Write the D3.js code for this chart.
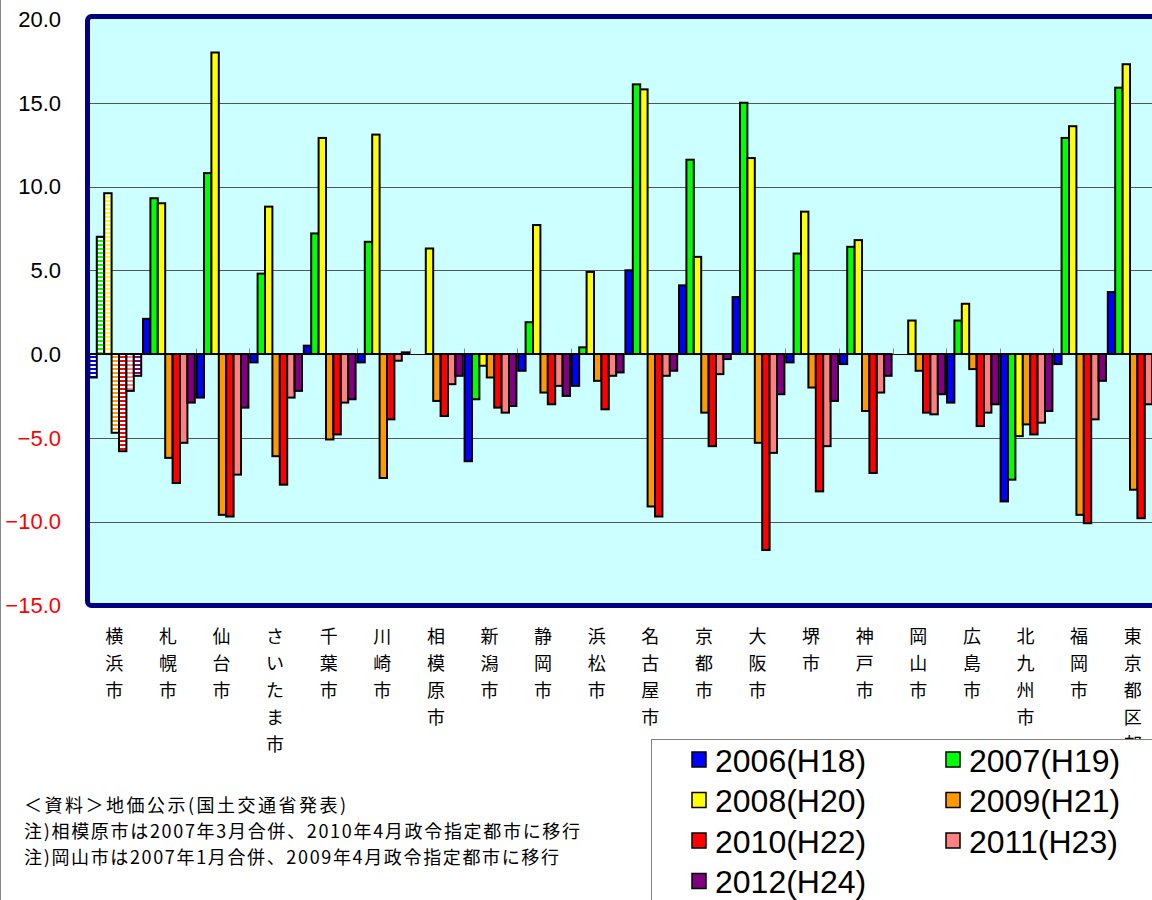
<!DOCTYPE html>
<html><head><meta charset="utf-8">
<script src="https://cdn.jsdelivr.net/npm/d3@7"></script>
<style>html,body{margin:0;padding:0;background:#fff;overflow:hidden}</style>
</head><body>
<script>
const categories = ["横浜市","札幌市","仙台市","さいたま市","千葉市","川崎市","相模原市","新潟市","静岡市","浜松市","名古屋市","京都市","大阪市","堺市","神戸市","岡山市","広島市","北九州市","福岡市","東京都区部"];
const seriesNames = ["2006(H18)","2007(H19)","2008(H20)","2009(H21)","2010(H22)","2011(H23)","2012(H24)"];
const seriesColors = ["#0000FF","#00FF00","#FFFF00","#FF9900","#FF0000","#FF8080","#800080"];
const v2006 = [-1.4, 2.1, -2.6, -0.5, 0.5, -0.5, null, -6.4, -1.0, -1.9, 5.0, 4.1, 3.4, -0.5, -0.6, null, -2.9, -8.8, -0.6, 3.7];
const v2007 = [7.0, 9.3, 10.8, 4.8, 7.2, 6.7, null, -2.7, 1.9, 0.4, 16.1, 11.6, 15.0, 6.0, 6.4, null, 2.0, -7.5, 12.9, 15.9];
const v2008 = [9.6, 9.0, 18.0, 8.8, 12.9, 13.1, 6.3, -0.7, 7.7, 4.9, 15.8, 5.8, 11.7, 8.5, 6.8, 2.0, 3.0, -4.9, 13.6, 17.3];
const v2009 = [-4.7, -6.2, -9.6, -6.1, -5.1, -7.4, -2.8, -1.4, -2.3, -1.6, -9.1, -3.5, -5.3, -2.0, -3.4, -1.0, -0.9, -4.2, -9.6, -8.1];
const v2010 = [-5.8, -7.7, -9.7, -7.8, -4.8, -3.9, -3.7, -3.2, -3.0, -3.3, -9.7, -5.5, -11.7, -8.2, -7.1, -3.5, -4.3, -4.8, -10.1, -9.8];
const v2011 = [-2.2, -5.3, -7.2, -2.6, -2.9, -0.4, -1.8, -3.5, -1.9, -1.3, -1.3, -1.2, -5.9, -5.5, -2.3, -3.6, -3.5, -4.1, -3.9, -3.0];
const v2012 = [-1.3, -2.9, -3.2, -2.2, -2.7, 0.1, -1.3, -3.1, -2.5, -1.1, -1.0, -0.3, -2.4, -2.8, -1.3, -2.4, -3.0, -3.4, -1.6, null];
const yTicks = [20, 15, 10, 5, 0, -5, -10, -15];
const hatchedCategory = "横浜市";
const notes = ["＜資料＞地価公示(国土交通省発表)", "注)相模原市は2007年3月合併、2010年4月政令指定都市に移行", "注)岡山市は2007年1月合併、2009年4月政令指定都市に移行"];

const seriesValues = [v2006, v2007, v2008, v2009, v2010, v2011, v2012];

const W = 1152, H = 900;
const svg = d3.select("body").append("svg").attr("width", W).attr("height", H)
  .style("font-family", "'Liberation Sans', Arial, sans-serif");

// patterns for hatched (Yokohama) bars
const defs = svg.append("defs");
seriesColors.forEach((c, i) => {
  const p = defs.append("pattern").attr("id", "hatch" + i).attr("patternUnits", "userSpaceOnUse")
    .attr("width", 8).attr("height", 4);
  p.append("rect").attr("width", 8).attr("height", 4).attr("fill", "#fff");
  p.append("rect").attr("width", 8).attr("height", 2).attr("fill", c);
});

// left gray edge line
svg.append("line").attr("x1", 0.5).attr("x2", 0.5).attr("y1", 0).attr("y2", H).attr("stroke", "#888").attr("stroke-width", 1);

const x0 = d3.scaleBand().domain(categories).range([88.5, 1160.5]).padding(0);
const x1 = d3.scaleBand().domain(seriesNames).range([0, x0.bandwidth()]).paddingInner(0).paddingOuter(0.12);
const y = d3.scaleLinear().domain([-15, 20]).range([605.3, 19]);

const plotX = 87.5, plotY = 16.5, plotW = 1090, plotH = 589;
svg.append("rect").attr("x", plotX).attr("y", plotY).attr("width", plotW).attr("height", plotH)
  .attr("fill", "#CCFFFF");

// gridlines
const g = svg.append("g");
g.selectAll("line.grid").data(yTicks.filter(t => t !== 0 && t !== 20 && t !== -15)).join("line")
  .attr("x1", 90).attr("x2", plotX + plotW).attr("y1", d => Math.round(y(d)) + 0.5).attr("y2", d => Math.round(y(d)) + 0.5)
  .attr("stroke", "#555").attr("stroke-width", 1);

// zero line and category ticks
const y0 = Math.round(y(0)) + 0.5;
g.append("line").attr("x1", 90).attr("x2", plotX + plotW).attr("y1", y0).attr("y2", y0).attr("stroke", "#000").attr("stroke-width", 1);
g.selectAll("line.ctick").data(categories.slice(1)).join("line")
  .attr("x1", d => Math.round(x0(d)) + 0.5).attr("x2", d => Math.round(x0(d)) + 0.5)
  .attr("y1", y0 - 6).attr("y2", y0).attr("stroke", "#888").attr("stroke-width", 1);

// bars
const barData = [];
seriesNames.forEach((s, si) => {
  categories.forEach((c, ci) => {
    const v = seriesValues[si][ci];
    if (v !== null && v !== undefined) barData.push({s, si, c, v});
  });
});
svg.append("g").selectAll("rect").data(barData).join("rect")
  .attr("x", d => x0(d.c) + x1(d.s))
  .attr("width", x1.bandwidth())
  .attr("y", d => y(Math.max(0, d.v)))
  .attr("height", d => Math.abs(y(d.v) - y(0)))
  .attr("fill", d => d.c === hatchedCategory ? `url(#hatch${d.si})` : seriesColors[d.si])
  .attr("stroke", "#000").attr("stroke-width", 2);

// plot border
svg.append("rect").attr("x", plotX).attr("y", plotY).attr("width", plotW).attr("height", plotH)
  .attr("rx", 4).attr("fill", "none").attr("stroke", "#000080").attr("stroke-width", 5);

// y axis labels
svg.append("g").selectAll("text").data(yTicks).join("text")
  .attr("x", 61).attr("y", d => y(d)).attr("dy", "0.36em").attr("text-anchor", "end")
  .attr("font-size", 22).attr("fill", d => d < 0 ? "#FF0000" : "#000")
  .text(d => d3.format(".1f")(d));

// category labels (vertical stacked characters)
const cl = svg.append("g").style("font-family", "'Noto Sans CJK JP', sans-serif").attr("font-size", 18);
categories.forEach(c => {
  const cx = x0(c) + x0.bandwidth() / 2 - 1;
  Array.from(c).forEach((ch, k) => {
    cl.append("text").attr("x", cx).attr("y", 637 + k * 27).attr("dy", "0.36em")
      .attr("text-anchor", "middle").attr("fill", "#000").text(ch);
  });
});

// notes
const nl = svg.append("g").style("font-family", "'Noto Sans CJK JP', sans-serif").attr("font-size", 18);
const noteLens = [322, 556, 535];
notes.forEach((t, i) => {
  nl.append("text").attr("x", 24).attr("y", 806 + i * 26).attr("dy", "0.36em")
    .attr("textLength", noteLens[i]).attr("lengthAdjust", "spacing").text(t);
});

// legend
const lg = svg.append("g");
lg.append("rect").attr("x", 651.5).attr("y", 739.5).attr("width", 600).attr("height", 300)
  .attr("fill", "#fff").attr("stroke", "#808080").attr("stroke-width", 1);
seriesNames.forEach((s, i) => {
  const col = i % 2, row = Math.floor(i / 2);
  const sx = col === 0 ? 692 : 946;
  const cy = 760 + row * 40.5;
  lg.append("rect").attr("x", sx).attr("y", cy - 8).attr("width", 14).attr("height", 15)
    .attr("fill", seriesColors[i]).attr("stroke", "#000").attr("stroke-width", 1.5);
  lg.append("text").attr("x", sx + 23).attr("y", cy).attr("dy", "0.36em")
    .attr("font-size", 32).attr("fill", "#000").text(s);
});
</script>
</body></html>
